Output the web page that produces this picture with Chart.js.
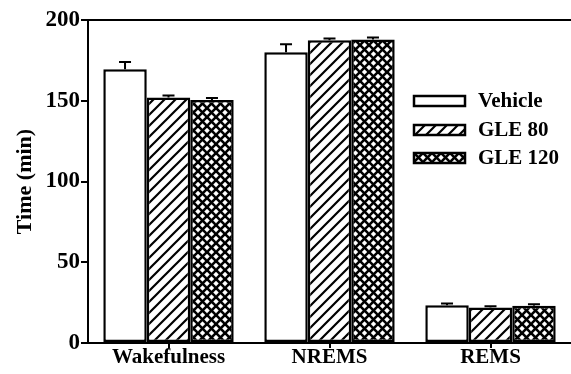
<!DOCTYPE html>
<html><head><meta charset="utf-8">
<script src="https://cdn.jsdelivr.net/npm/chart.js@4/dist/chart.umd.min.js"></script>
<style>html,body{margin:0;padding:0;background:#fff}#wrap{width:571px;height:374px;position:relative}</style>
</head><body><div id="wrap"><canvas id="c" width="571" height="374"></canvas></div>
<script>
const categories = ["Wakefulness", "NREMS", "REMS"];
const seriesNames = ["Vehicle", "GLE 80", "GLE 120"];
const vehicle = [169.5, 180, 23.4];
const gle80 = [152, 187.5, 22];
const gle120 = [150.5, 188, 23];
const vehicleErr = [4.5, 5, 1];
const gle80Err = [1.2, 1, 0.8];
const gle120Err = [1.2, 1.2, 1];
const yTicks = [0, 50, 100, 150, 200];
const FONT = "'Liberation Serif', 'Times New Roman', serif";

function makePattern(kind) {
  const s = kind === 'diag' ? 11 : 9;
  const c = document.createElement('canvas'); c.width = s; c.height = s;
  const x = c.getContext('2d');
  x.fillStyle = '#fff'; x.fillRect(0, 0, s, s);
  x.strokeStyle = '#000'; x.lineWidth = kind === 'diag' ? 2.2 : 2.6; x.lineCap = 'square';
  const line = (a, b, c2, d) => { x.beginPath(); x.moveTo(a, b); x.lineTo(c2, d); x.stroke(); };
  line(-s, 2 * s, 2 * s, -s); line(-s, s, s, -s); line(0, 2 * s, 2 * s, 0);
  if (kind === 'cross') { line(-s, -s, 2 * s, 2 * s); line(-s, 0, s, 2 * s); line(0, -s, 2 * s, s); }
  return x.createPattern(c, 'repeat');
}
const fills = ['#ffffff', makePattern('diag'), makePattern('cross')];
const errs = [vehicleErr, gle80Err, gle120Err];

const extras = {
  id: 'extras',
  afterDatasetsDraw(chart) {
    const ctx = chart.ctx, ys = chart.scales.y, a = chart.chartArea;
    ctx.save();
    ctx.strokeStyle = '#000'; ctx.lineWidth = 2;
    chart.data.datasets.forEach((ds, i) => {
      chart.getDatasetMeta(i).data.forEach((el, j) => {
        const top = ys.getPixelForValue(ds.data[j] + errs[i][j]);
        ctx.beginPath(); ctx.moveTo(el.x, el.y); ctx.lineTo(el.x, top);
        ctx.moveTo(el.x - 6, top); ctx.lineTo(el.x + 6, top); ctx.stroke();
      });
    });
    ctx.beginPath(); ctx.moveTo(a.left, a.top); ctx.lineTo(chart.width, a.top); ctx.stroke();
    const rows = [101, 130, 158];
    chart.data.datasets.forEach((ds, i) => {
      const y = rows[i];
      ctx.fillStyle = fills[i];
      ctx.fillRect(414, y - 5, 51, 10);
      ctx.lineWidth = 2.5; ctx.strokeRect(414, y - 5, 51, 10);
      ctx.fillStyle = '#000'; ctx.font = 'bold 21px ' + FONT;
      ctx.textBaseline = 'middle'; ctx.textAlign = 'left';
      ctx.fillText(ds.label, 478, y + 1);
    });
    ctx.restore();
  }
};

new Chart(document.getElementById('c'), {
  type: 'bar',
  data: {
    labels: categories,
    datasets: [vehicle, gle80, gle120].map((d, i) => ({
      label: seriesNames[i], data: d, backgroundColor: fills[i],
      borderColor: '#000', borderWidth: 2.5, borderSkipped: false,
      categoryPercentage: 0.81, barPercentage: 1
    }))
  },
  options: {
    responsive: false, animation: false,
    layout: { padding: { top: 20, right: 0, left: 0, bottom: 0 } },
    plugins: { legend: { display: false }, tooltip: { enabled: false } },
    scales: {
      x: {
        afterFit: s => { s.height = 31; },
        grid: { display: true, drawOnChartArea: false, offset: false, tickLength: 5, color: '#000', lineWidth: 2 },
        border: { color: '#000', width: 2 },
        ticks: { color: '#000', font: { family: FONT, size: 21, weight: 'bold' }, padding: -3 }
      },
      y: {
        min: 0, max: 200,
        afterFit: s => { s.width = 88; },
        afterBuildTicks: s => { s.ticks = yTicks.map(v => ({ value: v })); },
        grid: { display: true, drawOnChartArea: false, tickLength: 7, color: '#000', lineWidth: 2 },
        border: { color: '#000', width: 2 },
        ticks: { color: '#000', font: { family: FONT, size: 23, weight: 'bold' }, padding: 1 },
        title: { display: true, text: 'Time (min)', color: '#000', font: { family: FONT, size: 22, weight: 'bold' }, padding: { top: 12, bottom: 0 } }
      }
    }
  },
  plugins: [extras]
});
</script></body></html>
